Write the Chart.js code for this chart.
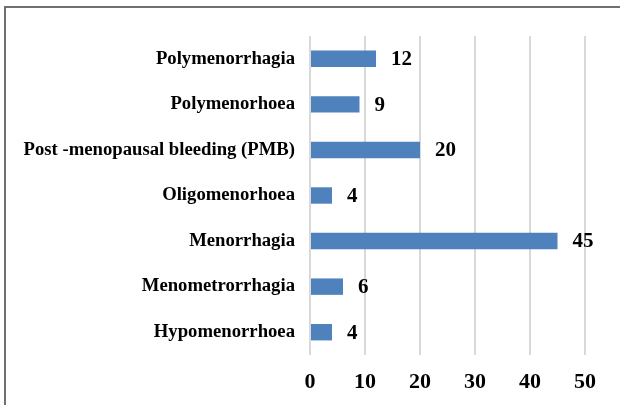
<!DOCTYPE html>
<html>
<head>
<meta charset="utf-8">
<script src="https://cdn.jsdelivr.net/npm/chart.js@4"></script>
<style>
  html, body { margin: 0; padding: 0; background: #fff; }
  #wrap { position: relative; width: 620px; height: 405px; overflow: hidden; }
  #frame { position: absolute; left: 4px; top: 6px; width: 700px; height: 500px;
           border-left: 2px solid #707070; border-top: 2px solid #707070; }
  canvas { position: absolute; left: 0; top: 0; }
</style>
</head>
<body>
<div id="wrap">
  <div id="frame"></div>
  <canvas id="myChart" width="620" height="405"></canvas>
</div>
<script>
const categories = ["Polymenorrhagia", "Polymenorhoea", "Post -menopausal bleeding (PMB)",
  "Oligomenorhoea", "Menorrhagia", "Menometrorrhagia", "Hypomenorrhoea"];
const counts = [12, 9, 20, 4, 45, 6, 4];
const xTicks = [0, 10, 20, 30, 40, 50];

const serif = "'Liberation Serif', 'Times New Roman', serif";

// value labels to the right of each bar
const barLabels = {
  id: "barLabels",
  afterDatasetsDraw(chart) {
    const ctx = chart.ctx;
    ctx.save();
    ctx.font = "bold 21px " + serif;
    ctx.fillStyle = "#000";
    ctx.textAlign = "left";
    ctx.textBaseline = "middle";
    chart.getDatasetMeta(0).data.forEach((bar, i) => {
      ctx.fillText(String(counts[i]), bar.x + 15, bar.y + 1);
    });
    ctx.restore();
  }
};

const ctx = document.getElementById("myChart").getContext("2d");
new Chart(ctx, {
  type: "bar",
  data: {
    labels: categories,
    datasets: [{
      data: counts,
      backgroundColor: "#4f81bd",
      categoryPercentage: 1,
      barPercentage: 0.36
    }]
  },
  options: {
    indexAxis: "y",
    responsive: false,
    animation: false,
    layout: { padding: { left: 10, right: 35, top: 36, bottom: 0 } },
    plugins: { legend: { display: false }, tooltip: { enabled: false } },
    scales: {
      x: {
        min: 0, max: 50,
        afterBuildTicks: (scale) => { scale.ticks = xTicks.map(v => ({ value: v })); },
        grid: { color: "#d9d9d9", lineWidth: 2, drawTicks: false },
        border: { display: false },
        ticks: { color: "#000", padding: 14, font: { family: serif, size: 22, weight: "bold" } },
        afterFit: (scale) => { scale.height = 50; }
      },
      y: {
        grid: { display: false, drawTicks: false },
        border: { display: false },
        ticks: { color: "#000", padding: 15, font: { family: serif, size: 18.7, weight: "bold" } },
        afterFit: (scale) => { scale.width = 300; }
      }
    }
  },
  plugins: [barLabels]
});
</script>
</body>
</html>
